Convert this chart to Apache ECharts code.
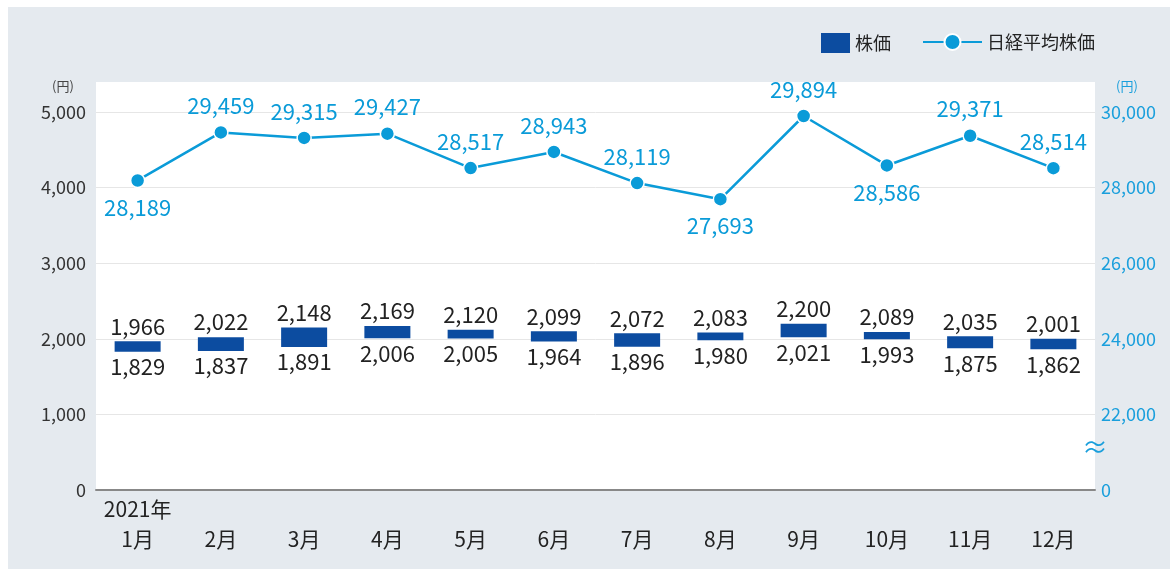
<!DOCTYPE html>
<html><head><meta charset="utf-8">
<script src="https://cdn.jsdelivr.net/npm/echarts@6/dist/echarts.min.js"></script>
<style>html,body{margin:0;padding:0;background:#fff;}#c{width:1170px;height:569px;}</style>
</head><body><div id="c"></div>
<script>
const months = ['1月','2月','3月','4月','5月','6月','7月','8月','9月','10月','11月','12月'];
const yearLabel = '2021年';
const stockHigh = [1966,2022,2148,2169,2120,2099,2072,2083,2200,2089,2035,2001];
const stockLow  = [1829,1837,1891,2006,2005,1964,1896,1980,2021,1993,1875,1862];
const nikkei = [28189,29459,29315,29427,28517,28943,28119,27693,29894,28586,29371,28514];
const nikkeiLabelBelow = [true,false,false,false,false,false,false,true,false,true,false,false];
const leftTicks = {min:0,max:5000,interval:1000};
const rightTicks = {min:20000,max:30000,interval:2000};

const BAR = '#0c4ca0', LINE = '#0a9bd8', BLUE_TXT = '#1a9fdc', FONT = '"Noto Sans CJK JP","Noto Sans",sans-serif';
const fmt = v => v.toLocaleString('en-US');
const chart = echarts.init(document.getElementById('c'));
chart.setOption({
  backgroundColor: '#fff',
  textStyle: {fontFamily: FONT},
  animation: false,
  graphic: [
    {type:'rect', z:-10, shape:{x:8,y:7,width:1162,height:562}, style:{fill:'#e5eaef'}},
    {type:'rect', z:-9, shape:{x:96,y:82,width:999,height:408}, style:{fill:'#ffffff'}},
    {type:'text', z:10, left:52, top:80, style:{text:'(円)', fill:'#444', font:'13px '+FONT}},
    {type:'text', z:10, left:1116, top:80, style:{text:'(円)', fill:BLUE_TXT, font:'13px '+FONT}},
    {type:'text', z:10, left:1082, top:434, style:{text:'≈', fill:BLUE_TXT, font:'26px '+FONT}}
  ],
  legend: [
    {data:[{name:'株価', icon:'rect'}], left:816, top:28, itemWidth:29, itemHeight:20, itemGap:8,
     textStyle:{fontSize:18, color:'#222', fontFamily:FONT}},
    {data:['日経平均株価'], left:917, top:28, itemWidth:59, itemHeight:20,
     textStyle:{fontSize:18, color:'#222', fontFamily:FONT}}
  ],
  grid: {left:96, right:75, top:112, bottom:79},
  xAxis: {
    type:'category', data: months,
    axisLine:{lineStyle:{color:'#888', width:2}},
    axisTick:{show:false},
    axisLabel:{
      interval:0, margin:4, color:'#222', fontSize:21, lineHeight:30, fontFamily:FONT,
      formatter:(v,i)=> i===0 ? yearLabel+'\n'+v : '\n'+v
    }
  },
  yAxis: [
    {type:'value', ...leftTicks, axisLine:{show:false}, axisTick:{show:false},
     splitLine:{lineStyle:{color:'#e6e6e6', width:1}},
     axisLabel:{color:'#333', fontSize:18, margin:10, formatter:v=>fmt(v)}},
    {type:'value', ...rightTicks, position:'right', axisLine:{show:false}, axisTick:{show:false},
     splitLine:{show:false},
     axisLabel:{color:BLUE_TXT, fontSize:18, margin:6, formatter:v=> v===rightTicks.min ? '0' : fmt(v)}}
  ],
  series: [
    {name:'base', type:'bar', stack:'s', barWidth:46, data: stockLow,
     itemStyle:{color:'transparent'}, silent:true,
     label:{show:true, position:'insideTop', distance:4, color:'#222', fontSize:22,
            formatter:p=>fmt(stockLow[p.dataIndex])}},
    {name:'株価', type:'bar', stack:'s', barWidth:46,
     data: stockHigh.map((h,i)=>h-stockLow[i]),
     itemStyle:{color:BAR},
     label:{show:true, position:'top', distance:4, color:'#222', fontSize:22,
            formatter:p=>fmt(stockHigh[p.dataIndex])}},
    {name:'日経平均株価', type:'line', yAxisIndex:1,
     data: nikkei.map((v,i)=>({value:v, label:{position: nikkeiLabelBelow[i]?'bottom':'top'}})),
     lineStyle:{color:LINE, width:2.5}, itemStyle:{color:LINE, borderColor:'#fff', borderWidth:1.5},
     symbol:'circle', symbolSize:14, z:5,
     label:{show:true, distance:8, color:LINE, fontSize:22, formatter:p=>fmt(p.value)}}
  ]
});
</script></body></html>
